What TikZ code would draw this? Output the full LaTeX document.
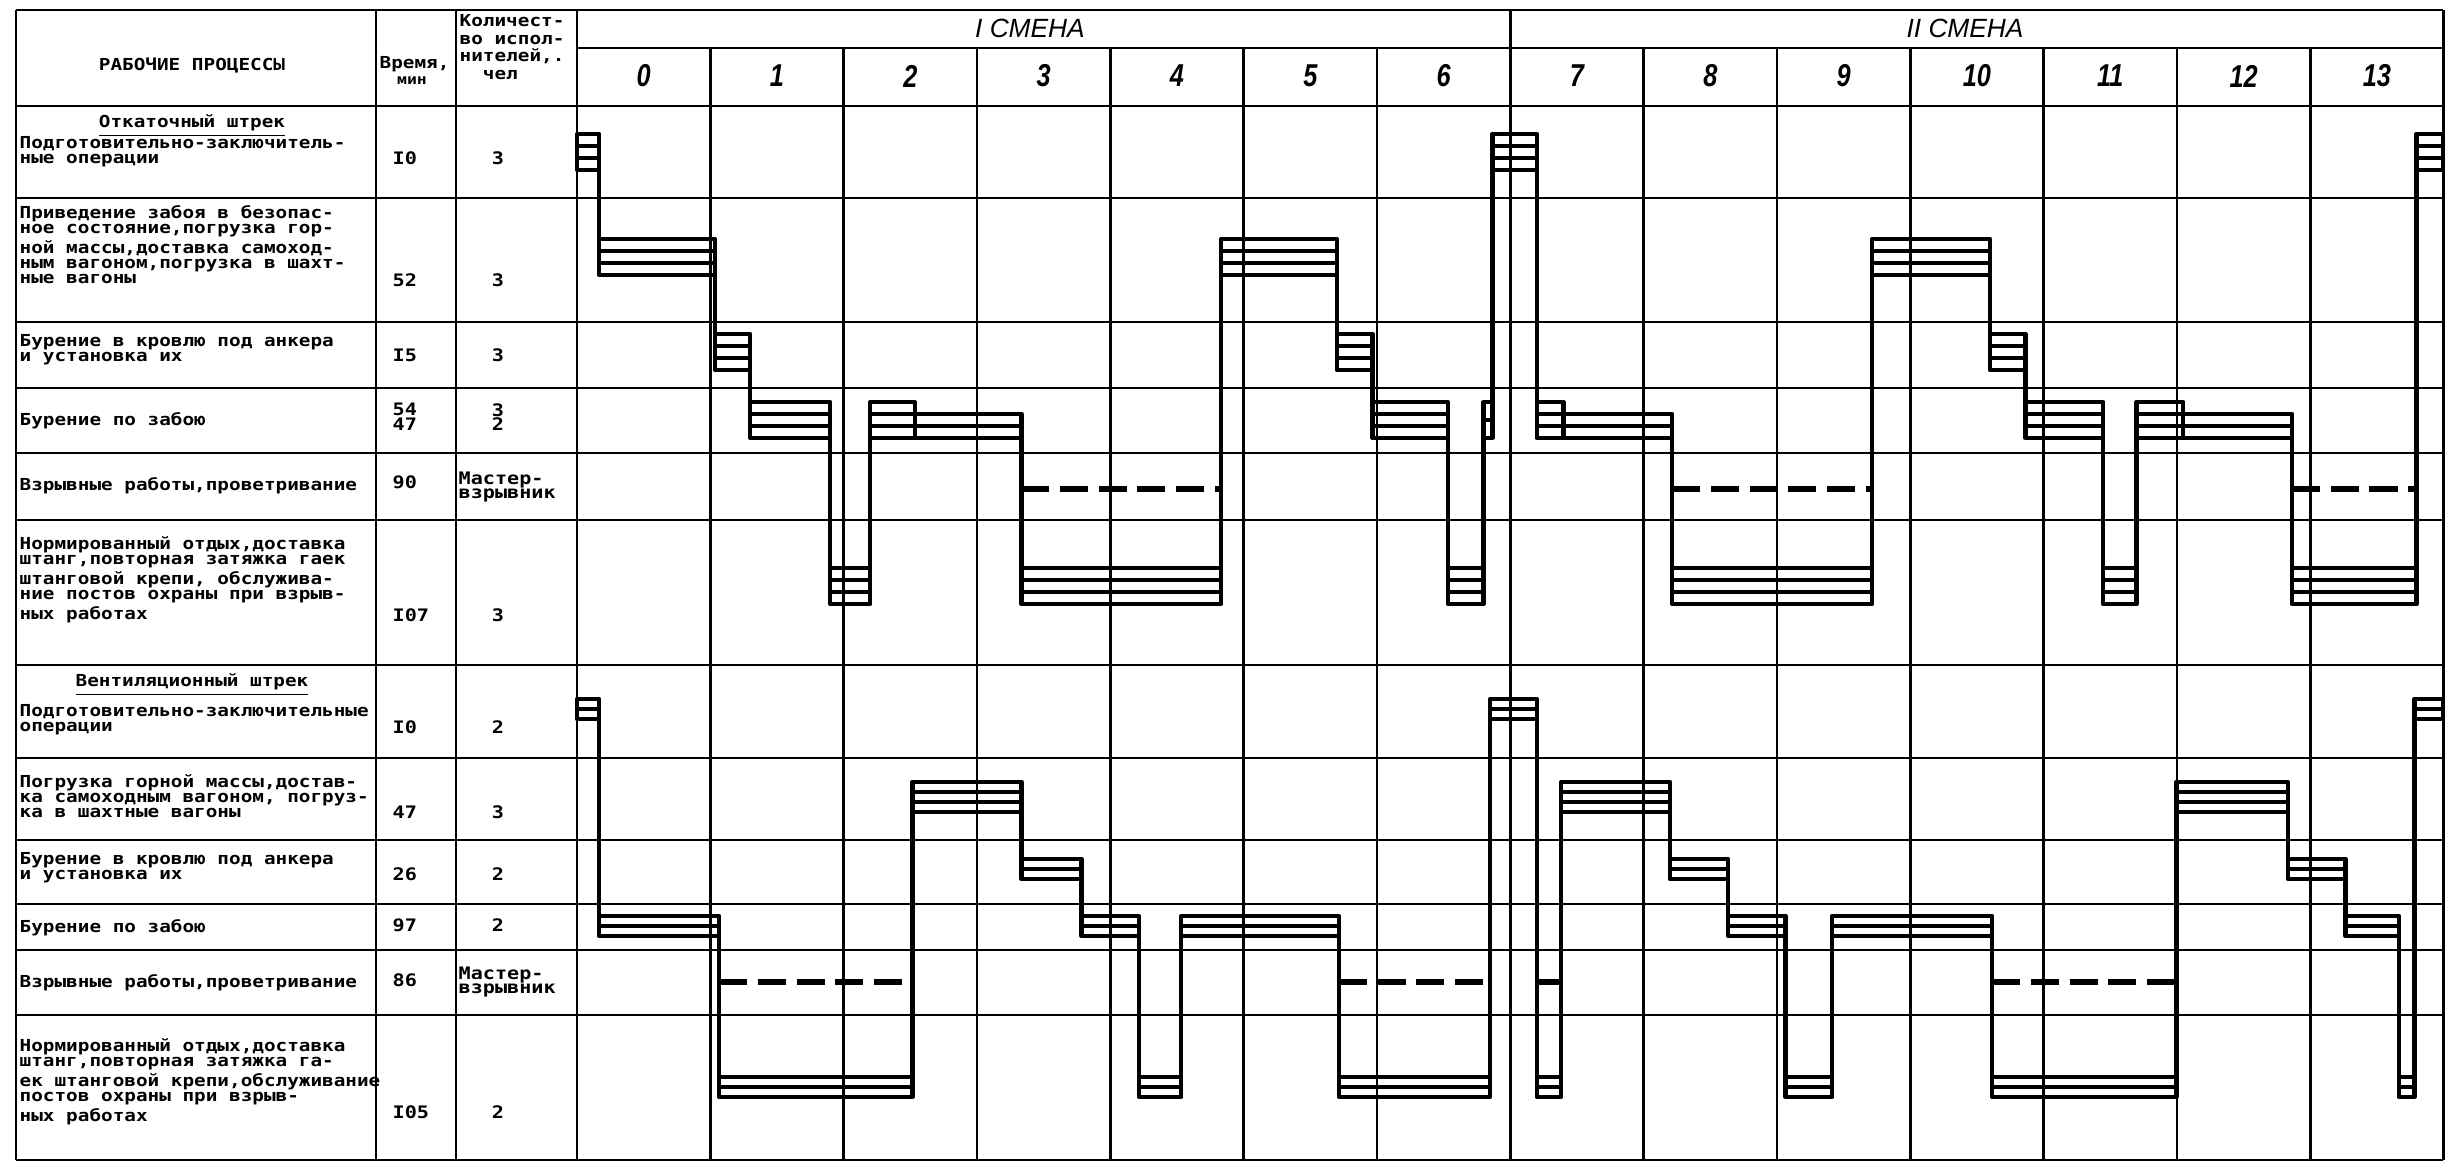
\documentclass[tikz,border=0pt]{standalone}
\usepackage{fontspec}
\setmainfont{DejaVu Sans Mono}
\newfontfamily\procfont[FakeStretch=1.17]{DejaVu Sans Mono}
\newfontfamily\shiftfont{Liberation Sans}
\newfontfamily\hourfont[FakeStretch=0.8]{Liberation Sans}

% strip height of one worker (cm)
\newcommand{\stripH}{0.12}
% bar: start (min), end (min), centre y, workers
\newcommand{\opbar}[4]{%
  \draw[work] (#1,{#3-#4*\stripH/2}) rectangle (#2,{#3+#4*\stripH/2});
  \pgfmathtruncatemacro{\nstrip}{#4-1}
  \foreach \k in {1,...,\nstrip}
    \draw[work] (#1,{#3-#4*\stripH/2+\k*\stripH}) -- (#2,{#3-#4*\stripH/2+\k*\stripH});
}
% passage from one process to the next
\newcommand{\oplink}[3]{\draw[work] (#1,#2) -- (#1,#3);}
% blasting, master-blaster only
\newcommand{\opblast}[3]{\draw[blast] (#1,#3) -- (#2,#3);}

\begin{document}
\begin{tikzpicture}[
    x=1cm, y=-1cm,
    gridln/.style={line width=0.75pt},
    work/.style={line width=1.25pt, line join=round},
    blast/.style={line width=1.7pt, dash pattern=on 8pt off 3pt},
    proc/.style={anchor=north west, align=left, inner sep=0pt,
        font=\procfont\bfseries\fontsize{4.7}{4.3}\selectfont},
    num/.style={inner sep=0pt, align=center,
        font=\procfont\bfseries\fontsize{4.9}{4.2}\selectfont},
    hour/.style={inner sep=0pt, font=\hourfont\bfseries\itshape\fontsize{9}{9}\selectfont},
    shiftlbl/.style={inner sep=0pt, font=\shiftfont\itshape\fontsize{7.5}{7.5}\selectfont}
]
\useasboundingbox (0,0) rectangle (24.55,11.67);

% table frame
\draw[gridln] (0.16,0.10) -- (24.43,0.10);
\draw[gridln] (5.77,0.48) -- (24.43,0.48);
\foreach \y in {1.06,1.98,3.22,3.88,4.53,5.20,6.65,7.58,8.40,9.04,9.50,10.15,11.60}
  \draw[gridln] (0.16,\y) -- (24.43,\y);
\foreach \x in {0.16,3.76,4.56}
  \draw[gridln] (\x,0.10) -- (\x,11.60);
\foreach \h in {0,7,14}
  \draw[gridln] ({5.77+\h*1.3333},0.10) -- ({5.77+\h*1.3333},0.48);
\foreach \h in {0,...,14}
  \draw[gridln] ({5.77+\h*1.3333},0.48) -- ({5.77+\h*1.3333},11.60);

% header
\node[proc, anchor=center] (hdr) at (1.92,0.66) {РАБОЧИЕ ПРОЦЕССЫ};
\node[proc, anchor=west] (hdrtime) at (3.79,0.64) {Время,};
\node[proc, anchor=center, font=\procfont\bfseries\fontsize{4}{4}\selectfont] (hdrmin) at (4.12,0.81) {мин};
\node[proc, anchor=west, align=left, font=\procfont\bfseries\fontsize{4.7}{5}\selectfont] (hdrcount) at (4.59,0.47)
  {Количест-\\во испол-\\нителей,.\\\ \ чел};
\node[shiftlbl] (sh1) at (10.30,0.28) {I СМЕНА};
\node[shiftlbl] (sh2) at (19.65,0.28) {II СМЕНА};
\foreach \h in {0,...,13}
  \node[hour] (hr\h) at ({5.77+(\h+0.5)*1.3333},0.76) {\h};

% Откаточный штрек
\node[proc, anchor=center] (sec1) at (1.92,1.26) {\underline{Откаточный штрек}};
\node[proc] (p1) at (0.19,1.36) {Подготовительно-заключитель-\\ные операции};
\node[proc] (p2) at (0.19,2.05) {Приведение забоя в безопас-\\ное состояние,погрузка гор-\\ной массы,доставка самоход-\\ным вагоном,погрузка в шахт-\\ные вагоны};
\node[proc] (p3) at (0.19,3.34) {Бурение в кровлю под анкера\\и установка их};
\node[proc] (p4) at (0.19,4.12) {Бурение по забою};
\node[proc] (p5) at (0.19,4.77) {Взрывные работы,проветривание};
\node[proc] (p6) at (0.19,5.36) {Нормированный отдых,доставка\\штанг,повторная затяжка гаек\\штанговой крепи, обслужива-\\ние постов охраны при взрыв-\\ных работах};

\node[num, anchor=west] (tm1) at (3.92,1.58) {I0};
\node[num, anchor=west] (tm2) at (3.92,2.80) {52};
\node[num, anchor=west] (tm3) at (3.92,3.55) {I5};
\node[num, anchor=west] (tm4) at (3.92,4.17) {54\\47};
\node[num, anchor=west] (tm5) at (3.92,4.82) {90};
\node[num, anchor=west] (tm6) at (3.92,6.15) {I07};
\node[num] (ct1) at (4.98,1.58) {3};
\node[num] (ct2) at (4.98,2.80) {3};
\node[num] (ct3) at (4.98,3.55) {3};
\node[num] (ct4) at (4.98,4.17) {3\\2};
\node[num, anchor=west, align=left] (ct5) at (4.58,4.87) {Мастер-\\взрывник};
\node[num] (ct6) at (4.98,6.15) {3};

% Вентиляционный штрек
\node[proc, anchor=center] (sec2) at (1.92,6.85) {\underline{Вентиляционный штрек}};
\node[proc] (p7) at (0.19,7.04) {Подготовительно-заключительные\\операции};
\node[proc] (p8) at (0.19,7.74) {Погрузка горной массы,достав-\\ка самоходным вагоном, погруз-\\ка в шахтные вагоны};
\node[proc] (p9) at (0.19,8.52) {Бурение в кровлю под анкера\\и установка их};
\node[proc] (p10) at (0.19,9.19) {Бурение по забою};
\node[proc] (p11) at (0.19,9.74) {Взрывные работы,проветривание};
\node[proc] (p12) at (0.19,10.38) {Нормированный отдых,доставка\\штанг,повторная затяжка га-\\ек штанговой крепи,обслуживание\\постов охраны при взрыв-\\ных работах};

\node[num, anchor=west] (tm7) at (3.92,7.27) {I0};
\node[num, anchor=west] (tm8) at (3.92,8.12) {47};
\node[num, anchor=west] (tm9) at (3.92,8.74) {26};
\node[num, anchor=west] (tm10) at (3.92,9.25) {97};
\node[num, anchor=west] (tm11) at (3.92,9.80) {86};
\node[num, anchor=west] (tm12) at (3.92,11.12) {I05};
\node[num] (ct7) at (4.98,7.27) {2};
\node[num] (ct8) at (4.98,8.12) {3};
\node[num] (ct9) at (4.98,8.74) {2};
\node[num] (ct10) at (4.98,9.25) {2};
\node[num, anchor=west, align=left] (ct11) at (4.58,9.82) {Мастер-\\взрывник};
\node[num] (ct12) at (4.98,11.12) {2};

% cyclogram, x in minutes
\begin{scope}[shift={(5.77,0)}, x=0.02222cm]
  % Откаточный штрек, shift I
  \opbar{0}{10}{1.52}{3}
  \oplink{10}{1.52}{2.57}
  \opbar{10}{62}{2.57}{3}
  \oplink{62}{2.57}{3.52}
  \opbar{62}{78}{3.52}{3}
  \oplink{78}{3.52}{4.20}
  \opbar{78}{114}{4.20}{3}
  \oplink{114}{4.20}{5.86}
  \opbar{114}{132}{5.86}{3}
  \oplink{132}{5.86}{4.20}
  \opbar{132}{152}{4.20}{3}
  \opbar{152}{200}{4.26}{2}
  \oplink{200}{4.26}{5.86}
  \opblast{200}{290}{4.89}
  \opbar{200}{290}{5.86}{3}
  \oplink{290}{5.86}{2.57}
  \opbar{290}{342}{2.57}{3}
  \oplink{342}{2.57}{3.52}
  \opbar{342}{358}{3.52}{3}
  \oplink{358}{3.52}{4.20}
  \opbar{358}{392}{4.20}{3}
  \oplink{392}{4.20}{5.86}
  \opbar{392}{408}{5.86}{3}
  \oplink{408}{5.86}{4.20}
  {\renewcommand{\stripH}{0.18}\opbar{408}{412}{4.20}{2}}
  \oplink{412}{4.20}{1.52}
  \opbar{412}{432}{1.52}{3}
  % shift II
  \oplink{432}{1.52}{4.20}
  \opbar{432}{444}{4.20}{3}
  \opbar{444}{493}{4.26}{2}
  \oplink{493}{4.26}{5.86}
  \opblast{493}{583}{4.89}
  \opbar{493}{583}{5.86}{3}
  \oplink{583}{5.86}{2.57}
  \opbar{583}{636}{2.57}{3}
  \oplink{636}{2.57}{3.52}
  \opbar{636}{652}{3.52}{3}
  \oplink{652}{3.52}{4.20}
  \opbar{652}{687}{4.20}{3}
  \oplink{687}{4.20}{5.86}
  \opbar{687}{702}{5.86}{3}
  \oplink{702}{5.86}{4.20}
  \opbar{702}{723}{4.20}{3}
  \opbar{723}{772}{4.26}{2}
  \oplink{772}{4.26}{5.86}
  \opblast{772}{828}{4.89}
  \opbar{772}{828}{5.86}{3}
  \oplink{828}{5.86}{1.52}
  \opbar{828}{840}{1.52}{3}

  % Вентиляционный штрек
  \renewcommand{\stripH}{0.10}
  \opbar{0}{10}{7.09}{2}
  \oplink{10}{7.09}{9.26}
  \opbar{10}{64}{9.26}{2}
  \oplink{64}{9.26}{10.87}
  \opblast{64}{151}{9.82}
  \opbar{64}{151}{10.87}{2}
  \oplink{151}{10.87}{7.97}
  \opbar{151}{200}{7.97}{3}
  \oplink{200}{7.97}{8.69}
  \opbar{200}{227}{8.69}{2}
  \oplink{227}{8.69}{9.26}
  \opbar{227}{253}{9.26}{2}
  \oplink{253}{9.26}{10.87}
  \opbar{253}{272}{10.87}{2}
  \oplink{272}{10.87}{9.26}
  \opbar{272}{343}{9.26}{2}
  \oplink{343}{9.26}{10.87}
  \opblast{343}{411}{9.82}
  \opbar{343}{411}{10.87}{2}
  \oplink{411}{10.87}{7.09}
  \opbar{411}{432}{7.09}{2}
  \oplink{432}{7.09}{10.87}
  \opblast{432}{443}{9.82}
  \opbar{432}{443}{10.87}{2}
  \oplink{443}{10.87}{7.97}
  \opbar{443}{492}{7.97}{3}
  \oplink{492}{7.97}{8.69}
  \opbar{492}{518}{8.69}{2}
  \oplink{518}{8.69}{9.26}
  \opbar{518}{544}{9.26}{2}
  \oplink{544}{9.26}{10.87}
  \opbar{544}{565}{10.87}{2}
  \oplink{565}{10.87}{9.26}
  \opbar{565}{637}{9.26}{2}
  \oplink{637}{9.26}{10.87}
  \opblast{637}{720}{9.82}
  \opbar{637}{720}{10.87}{2}
  \oplink{720}{10.87}{7.97}
  \opbar{720}{770}{7.97}{3}
  \oplink{770}{7.97}{8.69}
  \opbar{770}{796}{8.69}{2}
  \oplink{796}{8.69}{9.26}
  \opbar{796}{820}{9.26}{2}
  \oplink{820}{9.26}{10.87}
  \opbar{820}{827}{10.87}{2}
  \oplink{827}{10.87}{7.09}
  \opbar{827}{840}{7.09}{2}
\end{scope}
\end{tikzpicture}
\end{document}
